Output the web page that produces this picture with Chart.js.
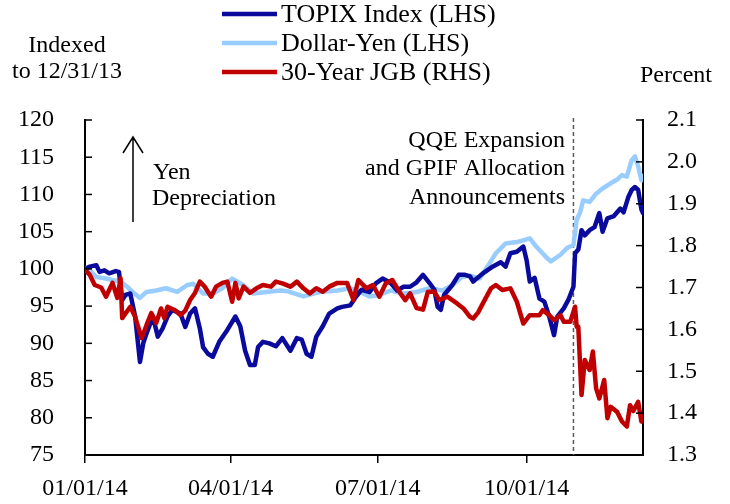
<!DOCTYPE html>
<html>
<head>
<meta charset="utf-8">
<script src="https://cdn.jsdelivr.net/npm/chart.js@4.4.1/dist/chart.umd.min.js"></script>
<style>
	body { margin: 0; background: #fff; }
	#wrap { width: 730px; height: 504px; }
</style>
</head>
<body>
<div id="wrap"><canvas id="chart" width="730" height="504"></canvas></div>
<script>
// days counted from 01/01/14
const xTickDays = [0, 90, 181, 273];
const xTickLabels = ['01/01/14', '04/01/14', '07/01/14', '10/01/14'];
const qqeDay = 302;

const topixDays = [0, 3, 7, 9, 12, 15, 19, 21, 23, 25, 28, 31, 34, 36, 38, 42, 45, 48, 51, 54, 59, 62, 65, 68, 71, 73, 76, 79, 83, 88, 93, 96, 99, 102, 105, 107, 110, 114, 118, 122, 127, 131, 134, 137, 140, 143, 147, 151, 156, 159, 164, 167, 171, 176, 180, 184, 189, 193, 197, 201, 205, 209, 213, 216, 218, 220, 222, 227, 231, 235, 238, 240, 246, 252, 257, 260, 263, 267, 271, 273, 275, 278, 281, 284, 287, 290, 292, 296, 299, 302, 303, 305, 307, 309, 312, 315, 318, 320, 323, 327, 331, 333, 336, 338, 340, 342, 344, 345];
const topixVals = [100.0, 100.3, 100.5, 99.6, 99.8, 99.4, 99.7, 99.6, 95.8, 96.5, 96.7, 93.6, 87.5, 90.0, 91.3, 93.6, 90.9, 92.0, 93.6, 94.5, 94.0, 92.2, 94.0, 94.7, 92.0, 89.5, 88.6, 88.2, 90.2, 91.8, 93.6, 92.3, 89.0, 87.1, 87.1, 89.5, 90.2, 90.0, 89.6, 90.7, 89.0, 90.7, 90.5, 88.6, 88.2, 90.9, 92.3, 94.0, 94.7, 94.9, 95.1, 96.1, 97.2, 96.9, 98.1, 98.7, 98.1, 97.1, 97.6, 97.6, 98.2, 99.2, 98.1, 97.2, 94.9, 94.5, 96.5, 97.8, 99.2, 99.2, 99.0, 98.3, 99.4, 100.3, 100.9, 100.3, 102.1, 102.3, 103.0, 101.2, 98.3, 98.8, 96.0, 95.6, 93.6, 91.1, 93.6, 94.7, 95.9, 97.6, 102.1, 102.6, 105.2, 104.5, 105.2, 105.6, 107.5, 105.0, 106.8, 107.1, 108.1, 107.6, 109.7, 110.6, 111.0, 110.6, 108.0, 107.5];

const yenDays = [0, 3, 7, 13, 17, 22, 26, 30, 34, 38, 44, 50, 57, 63, 67, 73, 79, 85, 91, 98, 104, 112, 121, 125, 135, 145, 156, 164, 172, 176, 182, 189, 197, 205, 213, 221, 227, 233, 238, 244, 250, 254, 260, 267, 275, 279, 285, 288, 294, 298, 302, 304, 306, 308, 312, 316, 320, 325, 329, 332, 335, 338, 340, 342, 344, 345];
const yenVals = [100.1, 99.8, 98.9, 98.7, 98.5, 98.3, 97.6, 96.8, 96.1, 96.9, 97.1, 97.4, 96.9, 97.8, 98.0, 96.7, 96.7, 97.4, 98.7, 97.8, 96.7, 96.9, 97.1, 97.0, 96.3, 96.9, 97.1, 97.4, 96.7, 96.3, 96.5, 97.1, 96.7, 96.9, 97.4, 97.1, 97.8, 98.9, 99.1, 98.7, 100.7, 102.1, 103.4, 103.6, 104.1, 103.0, 101.6, 101.0, 101.9, 102.8, 103.2, 106.6, 107.5, 109.2, 109.0, 110.1, 110.8, 111.5, 112.0, 112.6, 112.4, 114.6, 115.1, 113.8, 111.9, 112.5];

const jgbDays = [0, 3, 6, 10, 13, 17, 20, 22, 23, 28, 31, 35, 38, 41, 44, 47, 49, 51, 56, 59, 62, 65, 68, 71, 74, 78, 81, 85, 88, 91, 93, 95, 98, 102, 106, 110, 115, 118, 122, 127, 131, 135, 139, 143, 147, 151, 156, 162, 166, 169, 174, 178, 182, 186, 190, 195, 198, 201, 205, 209, 212, 216, 219, 224, 230, 234, 238, 240, 243, 246, 251, 254, 258, 263, 267, 271, 275, 281, 283, 287, 290, 294, 296, 300, 303, 304, 305, 307, 309, 312, 314, 316, 318, 321, 323, 325, 329, 332, 335, 337, 339, 342, 344, 345];
const jgbVals = [1.742, 1.730, 1.706, 1.700, 1.678, 1.711, 1.675, 1.722, 1.627, 1.654, 1.630, 1.579, 1.610, 1.639, 1.615, 1.650, 1.627, 1.654, 1.645, 1.634, 1.645, 1.670, 1.687, 1.714, 1.702, 1.678, 1.702, 1.711, 1.714, 1.666, 1.711, 1.674, 1.702, 1.687, 1.698, 1.706, 1.702, 1.714, 1.710, 1.702, 1.714, 1.698, 1.686, 1.698, 1.690, 1.702, 1.711, 1.711, 1.670, 1.718, 1.698, 1.706, 1.678, 1.710, 1.718, 1.686, 1.670, 1.686, 1.651, 1.647, 1.690, 1.690, 1.670, 1.678, 1.662, 1.650, 1.630, 1.626, 1.640, 1.662, 1.698, 1.706, 1.694, 1.698, 1.666, 1.614, 1.634, 1.634, 1.646, 1.634, 1.622, 1.634, 1.618, 1.618, 1.654, 1.606, 1.606, 1.443, 1.527, 1.503, 1.547, 1.459, 1.435, 1.479, 1.388, 1.415, 1.403, 1.380, 1.368, 1.419, 1.405, 1.427, 1.380, 1.391];

const seriesNames = ['TOPIX Index (LHS)', 'Dollar-Yen (LHS)', '30-Year JGB (RHS)'];
const seriesColors = ['#0a0a9c', '#99ccff', '#c00000'];

const FONT = 'Liberation Serif, Times New Roman, serif';

function toPoints(days, vals) {
	return days.map((d, i) => ({ x: d, y: vals[i] }));
}

// 범례, 주석, 안쪽 눈금
const extras = {
	id: 'extras',
	beforeDatasetsDraw(chart) {
		const ctx = chart.ctx;
		const x = chart.scales.x.getPixelForValue(qqeDay);
		ctx.save();
		ctx.strokeStyle = '#595959';
		ctx.lineWidth = 1.5;
		ctx.setLineDash([4, 3]);
		ctx.beginPath();
		ctx.moveTo(x, chart.chartArea.top - 2);
		ctx.lineTo(x, chart.chartArea.bottom);
		ctx.stroke();
		ctx.restore();
	},
	afterDraw(chart) {
		const ctx = chart.ctx;
		const area = chart.chartArea;
		const yL = chart.scales.y;
		const yR = chart.scales.y1;
		ctx.save();

		// inward y ticks
		ctx.strokeStyle = '#000';
		ctx.lineWidth = 1.5;
		yL.ticks.forEach(t => {
			const p = yL.getPixelForValue(t.value);
			ctx.beginPath(); ctx.moveTo(area.left, p); ctx.lineTo(area.left + 7, p); ctx.stroke();
		});
		yR.ticks.forEach(t => {
			const p = yR.getPixelForValue(t.value);
			ctx.beginPath(); ctx.moveTo(area.right - 7, p); ctx.lineTo(area.right, p); ctx.stroke();
		});

		// legend
		const rows = [14, 43, 72];
		ctx.lineWidth = 4.5;
		ctx.font = '26px ' + FONT;
		ctx.textBaseline = 'middle';
		ctx.textAlign = 'left';
		ctx.fillStyle = '#000';
		seriesNames.forEach((name, i) => {
			ctx.strokeStyle = seriesColors[i];
			ctx.beginPath(); ctx.moveTo(222, rows[i]); ctx.lineTo(277, rows[i]); ctx.stroke();
			ctx.fillText(name, 281, rows[i] + 1);
		});

		// axis titles
		ctx.font = '24px ' + FONT;
		ctx.textAlign = 'center';
		ctx.fillText('Indexed', 67, 46);
		ctx.fillText('to 12/31/13', 67, 72);
		ctx.fillText('Percent', 676, 76);

		// yen arrow
		ctx.strokeStyle = '#000';
		ctx.lineWidth = 1.5;
		ctx.beginPath();
		ctx.moveTo(133, 222); ctx.lineTo(133, 137);
		ctx.moveTo(123, 153); ctx.lineTo(133, 137); ctx.lineTo(143, 153);
		ctx.stroke();
		ctx.textAlign = 'left';
		ctx.fillText('Yen', 153, 173);
		ctx.fillText('Depreciation', 152, 199);

		ctx.textAlign = 'right';
		ctx.fillText('QQE Expansion', 565, 141);
		ctx.fillText('and GPIF Allocation', 565, 169);
		ctx.fillText('Announcements', 565, 198);
		ctx.restore();
	}
};

const ctx = document.getElementById('chart').getContext('2d');
const chart = new Chart(ctx, {
	type: 'line',
	data: {
		datasets: [
			{ label: seriesNames[0], data: toPoints(topixDays, topixVals), borderColor: seriesColors[0], yAxisID: 'y', order: 1 },
			{ label: seriesNames[1], data: toPoints(yenDays, yenVals), borderColor: seriesColors[1], yAxisID: 'y', order: 2 },
			{ label: seriesNames[2], data: toPoints(jgbDays, jgbVals), borderColor: seriesColors[2], yAxisID: 'y1', order: 0 }
		]
	},
	options: {
		responsive: false,
		animation: false,
		events: [],
		layout: { padding: { top: 120, left: 0, right: 0, bottom: 0 } },
		elements: {
			point: { radius: 0 },
			line: { borderWidth: 4.5, tension: 0, borderJoinStyle: 'round', borderCapStyle: 'round' }
		},
		plugins: { legend: { display: false }, tooltip: { enabled: false } },
		scales: {
			x: {
				type: 'linear',
				min: 0,
				max: 345,
				afterBuildTicks: s => { s.ticks = xTickDays.map(v => ({ value: v })); },
				afterFit: s => { s.height = 49; },
				grid: { display: true, drawOnChartArea: false, drawTicks: true, tickLength: 8, color: '#000', lineWidth: 1.5 },
				border: { display: true, color: '#000', width: 2 },
				ticks: {
					autoSkip: false,
					maxRotation: 0,
					padding: 11,
					color: '#000',
					font: { family: FONT, size: 24 },
					callback: v => xTickLabels[xTickDays.indexOf(v)]
				}
			},
			y: {
				position: 'left',
				min: 75,
				max: 120,
				afterFit: s => { s.width = 85; },
				grid: { display: false },
				border: { display: true, color: '#000', width: 2 },
				ticks: { stepSize: 5, padding: 23, color: '#000', font: { family: FONT, size: 24 } }
			},
			y1: {
				position: 'right',
				min: 1.3,
				max: 2.1,
				afterFit: s => { s.width = 87; },
				grid: { display: false },
				border: { display: true, color: '#000', width: 2 },
				ticks: { stepSize: 0.1, padding: 16, color: '#000', font: { family: FONT, size: 24 }, callback: v => v.toFixed(1) }
			}
		}
	},
	plugins: [extras]
});
</script>
</body>
</html>
